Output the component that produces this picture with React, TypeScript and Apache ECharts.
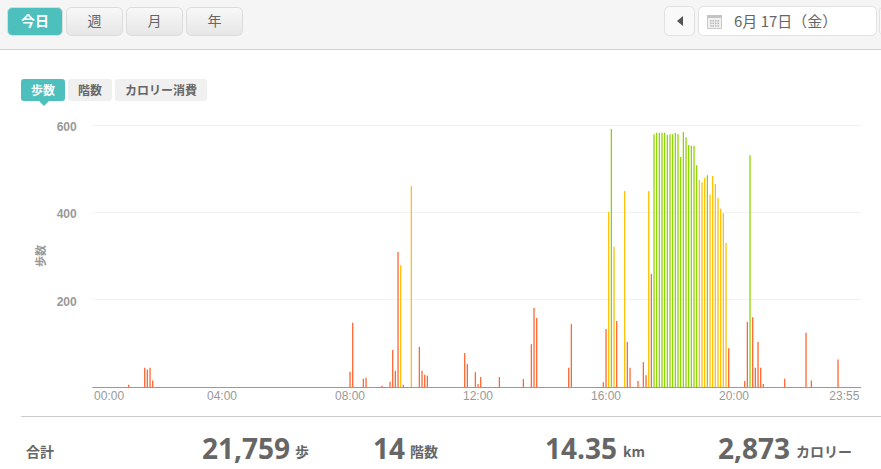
import React, { useEffect, useRef } from "react";
import * as echarts from "echarts";

const tickLabels = ["00:00", "04:00", "08:00", "12:00", "16:00", "20:00", "23:55"];
const yTicks = [0, 200, 400, 600];
const periodButtons = ["今日", "週", "月", "年"];
const metricTabs = ["歩数", "階数", "カロリー消費"];
const dateLabel = "6月 17日（金）";
const yAxisName = "歩数";
const totalLabel = "合計";
const totals = [
  ["21,759", "歩"],
  ["14", "階数"],
  ["14.35", "km"],
  ["2,873", "カロリー"],
];

// [5-minute slot, steps]
const lowSteps = [
  [13, 5], [19, 44], [20, 40], [21, 44], [22, 15], [96, 35], [97, 147], [101, 19], [102, 21], [108, 3],
  [111, 12], [112, 85], [113, 37], [114, 309], [116, 5], [122, 92], [123, 37], [124, 28], [125, 26],
  [139, 78], [140, 53], [143, 34], [144, 7], [145, 23], [152, 23], [161, 18], [164, 98], [165, 181],
  [166, 158], [178, 44], [179, 144], [191, 11], [192, 133], [196, 151], [200, 103], [201, 44], [204, 14],
  [206, 57], [207, 27], [209, 259], [238, 89], [244, 14], [245, 149], [247, 160], [248, 44], [249, 103],
  [250, 44], [251, 7], [259, 19], [267, 124], [269, 15], [279, 63],
];
const midSteps = [
  [115, 279], [119, 460], [193, 401], [195, 321], [199, 449], [208, 449], [227, 474], [228, 469],
  [229, 479], [231, 440], [232, 483], [233, 465], [234, 433], [235, 408], [236, 398], [237, 330],
];
const highSteps = [
  [194, 591], [210, 579], [211, 582], [212, 582], [213, 582], [214, 582], [215, 577], [216, 579],
  [217, 579], [218, 582], [219, 579], [220, 527], [221, 584], [222, 572], [223, 554], [224, 552],
  [225, 552], [226, 508], [230, 485], [246, 531],
];

const SLOT_COUNT = 288;
const categories: string[] = [];
for (let i = 0; i < SLOT_COUNT; i++) {
  const m = i * 5;
  categories.push(String(Math.floor(m / 60)).padStart(2, "0") + ":" + String(m % 60).padStart(2, "0"));
}

const JP = '"Noto Sans CJK JP", "Noto Sans", sans-serif';
const TEAL = "#4dc0be";

function txt(text: string, x: number, y: number, font: string, fill: string, align = "center") {
  return { type: "text", silent: true, z: 10, style: { text, x, y, font, fill, textAlign: align, textVerticalAlign: "middle" } };
}
function box(x: number, y: number, width: number, height: number, r: number, fill: any, stroke?: string) {
  return { type: "rect", silent: true, z: 5, shape: { x: x + 0.5, y: y + 0.5, width: width - 1, height: height - 1, r }, style: { fill, stroke: stroke || "none", lineWidth: 1 } };
}

function chrome(): any[] {
  const grad = new echarts.graphic.LinearGradient(0, 0, 0, 1, [
    { offset: 0, color: "#f8f8f8" },
    { offset: 1, color: "#e6e6e6" },
  ]);
  const els: any[] = [];
  els.push({ type: "rect", silent: true, z: 1, shape: { x: 0, y: 0, width: 881, height: 49 }, style: { fill: "#f5f5f5" } });
  els.push({ type: "rect", silent: true, z: 1, shape: { x: 0, y: 49, width: 881, height: 1 }, style: { fill: "#cfcfcf" } });
  const bx = [7, 66, 126, 186];
  periodButtons.forEach((label, i) => {
    const active = i === 0;
    const w = active ? 56 : 57;
    els.push(box(bx[i], 7, w, 29, 5, active ? TEAL : grad, active ? "#d8dedd" : "#dcdcdc"));
    els.push(txt(label, bx[i] + w / 2, 20, active ? `bold 14px ${JP}` : `14px ${JP}`, active ? "#ffffff" : "#666666"));
  });
  els.push(box(664, 6, 31, 30, 5, "#f9f9f9", "#e2e2e2"));
  els.push({ type: "polygon", silent: true, z: 10, shape: { points: [[677, 21], [683, 16], [683, 26]] }, style: { fill: "#555555" } });
  els.push(box(698, 6, 179, 30, 5, "#ffffff", "#e2e2e2"));
  els.push(box(879, 6, 10, 30, 5, "#f9f9f9", "#e2e2e2"));
  els.push({ type: "rect", silent: true, z: 8, shape: { x: 707.5, y: 16, width: 14, height: 12.5 }, style: { fill: "#f2f2f2", stroke: "#c8c8c8", lineWidth: 1 } });
  els.push({ type: "rect", silent: true, z: 9, shape: { x: 707, y: 15, width: 15, height: 3 }, style: { fill: "#c4c4c4" } });
  for (let r = 0; r < 3; r++) {
    for (let c = 0; c < 4; c++) {
      els.push({ type: "rect", silent: true, z: 9, shape: { x: 710 + c * 2.5, y: 20 + r * 2.6, width: 1.6, height: 1.6 }, style: { fill: "#b8b8b8" } });
    }
  }
  els.push(txt(dateLabel, 734, 20, `15px ${JP}`, "#666666", "left"));

  const tx = [21, 68, 115];
  const tw = [44, 44, 92];
  metricTabs.forEach((label, i) => {
    const active = i === 0;
    els.push({ type: "rect", silent: true, z: 5, shape: { x: tx[i], y: 79, width: tw[i], height: 22, r: 3 }, style: { fill: active ? TEAL : "#f0f0f0" } });
    els.push(txt(label, tx[i] + tw[i] / 2, 89.5, `bold 12px ${JP}`, active ? "#ffffff" : "#666666"));
  });
  els.push({ type: "polygon", silent: true, z: 5, shape: { points: [[39, 101], [49, 101], [44, 106]] }, style: { fill: TEAL } });

  els.push({ type: "rect", silent: true, z: 1, shape: { x: 21, y: 416, width: 860, height: 1 }, style: { fill: "#cccccc" } });
  els.push(txt(totalLabel, 26, 451, `bold 14px ${JP}`, "#666666", "left"));
  const nx = [290, 405, 617, 790];
  const ux = [295, 410, 623, 796];
  totals.forEach(([num, unit], i) => {
    els.push(txt(num, nx[i], 448, `bold 28px "Open Sans", sans-serif`, "#666666", "right"));
    els.push(txt(unit, ux[i], 451, `bold 14px ${JP}`, "#666666", "left"));
  });
  return els;
}

export default function App() {
  const ref = useRef<HTMLDivElement>(null);
  useEffect(() => {
    document.body.style.margin = "0";
    document.body.style.background = "#ffffff";
    const chart = echarts.init(ref.current!, undefined, { renderer: "svg" });
    const bar = (name: string, data: number[][], color: string) => ({
      name,
      type: "bar",
      data,
      barWidth: 1.3,
      barGap: "-100%",
      itemStyle: { color },
      silent: true,
    });
    chart.setOption({
      animation: false,
      grid: { left: 92.7, right: 20.3, top: 125, bottom: 82, containLabel: false },
      graphic: { elements: chrome() },
      xAxis: {
        type: "category",
        data: categories,
        boundaryGap: true,
        axisTick: { show: false },
        axisLine: { lineStyle: { color: "#999999", width: 1 } },
        axisLabel: {
          color: "#999999",
          fontFamily: '"Liberation Sans", Arial, sans-serif',
          fontSize: 12,
          margin: 3,
          alignMinLabel: "left",
          alignMaxLabel: "right",
          showMinLabel: true,
          showMaxLabel: true,
          hideOverlap: false,
          interval: (_i: number, v: string) => tickLabels.includes(v),
        },
      },
      yAxis: {
        type: "value",
        min: yTicks[0],
        max: yTicks[yTicks.length - 1],
        interval: yTicks[1] - yTicks[0],
        name: yAxisName,
        nameLocation: "middle",
        nameRotate: 90,
        nameGap: 46,
        nameTextStyle: { color: "#999999", fontFamily: JP, fontSize: 11, fontWeight: "bold" },
        axisLine: { show: false },
        axisTick: { show: false },
        axisLabel: {
          color: "#999999",
          fontFamily: '"Liberation Sans", Arial, sans-serif',
          fontSize: 12,
          fontWeight: "bold",
          margin: 16,
          verticalAlign: "top",
          lineHeight: 4,
          formatter: (v: number) => (v === 0 ? "" : String(v)),
        },
        splitLine: { lineStyle: { color: "#f2f2f2", width: 1 } },
      },
      series: [bar("low", lowSteps, "#ff6633"), bar("mid", midSteps, "#ffc000"), bar("high", highSteps, "#8fd400")],
    });
    return () => chart.dispose();
  }, []);
  return <div ref={ref} style={{ width: 881, height: 469 }} />;
}
